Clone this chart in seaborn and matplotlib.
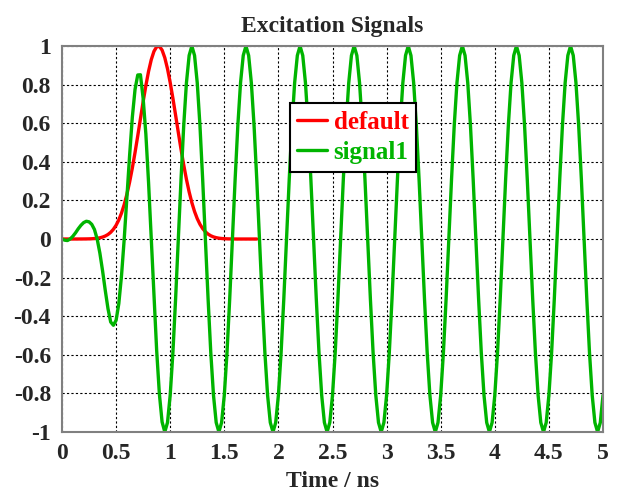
import matplotlib
matplotlib.use("Agg")
import matplotlib.pyplot as plt
import seaborn as sns
import numpy as np

# default pulse, sampled every 0.025 ns from 0 to 1.8 ns
default_t = np.linspace(0, 1.8, 73)
default_v = [0, 0, 0, 0, 0, 0, 0.0001, 0.0002,
             0.0003, 0.0005, 0.0008, 0.0014,
             0.0024, 0.0039, 0.0063, 0.0100, 0.0155, 0.0234, 0.0347, 0.0503,
             0.0713, 0.0990, 0.1344, 0.1786, 0.2322, 0.2955, 0.3679, 0.4482,
             0.5344, 0.6233, 0.7116, 0.7948, 0.8688, 0.9293, 0.9726, 0.9961,
             0.9983, 0.9790, 0.9394, 0.8821, 0.8105, 0.7288, 0.6412, 0.5520,
             0.4650, 0.3834, 0.3093, 0.2441, 0.1886, 0.1425, 0.1054, 0.0763,
             0.0540, 0.0374, 0.0254, 0.0168, 0.0109, 0.0069, 0.0043, 0.0026,
             0.0016, 0.0009, 0.0005, 0.0003, 0.0001,
             0, 0, 0, 0, 0, 0, 0, 0]

# signal1, sampled every 0.025 ns from 0 to 5 ns
signal_t = np.linspace(0, 5, 201)
signal_v = [0, -0.006, -0.008, 0, 0.014, 0.032, 0.053, 0.071, 0.085, 0.092,
            0.089, 0.076, 0.049, 0, -0.073, -0.165, -0.267, -0.361, -0.43, -0.447,
            -0.421, -0.335, -0.190, 0, 0.216, 0.435, 0.631, 0.775, 0.85, 0.851,
            0.728, 0.544, 0.292, 0, -0.301, -0.579, -0.803, -0.948, -1.0, -0.951,
            -0.809,
            -0.588, -0.309, 0, 0.309, 0.588, 0.809, 0.951, 1, 0.951, 0.809, 0.588, 0.309, 0, -0.309, -0.588, -0.809, -0.951, -1, -0.951, -0.809,
            -0.588, -0.309, 0, 0.309, 0.588, 0.809, 0.951, 1, 0.951, 0.809, 0.588, 0.309, 0, -0.309, -0.588, -0.809, -0.951, -1, -0.951, -0.809,
            -0.588, -0.309, 0, 0.309, 0.588, 0.809, 0.951, 1, 0.951, 0.809, 0.588, 0.309, 0, -0.309, -0.588, -0.809, -0.951, -1, -0.951, -0.809,
            -0.588, -0.309, 0, 0.309, 0.588, 0.809, 0.951, 1, 0.951, 0.809, 0.588, 0.309, 0, -0.309, -0.588, -0.809, -0.951, -1, -0.951, -0.809,
            -0.588, -0.309, 0, 0.309, 0.588, 0.809, 0.951, 1, 0.951, 0.809, 0.588, 0.309, 0, -0.309, -0.588, -0.809, -0.951, -1, -0.951, -0.809,
            -0.588, -0.309, 0, 0.309, 0.588, 0.809, 0.951, 1, 0.951, 0.809, 0.588, 0.309, 0, -0.309, -0.588, -0.809, -0.951, -1, -0.951, -0.809,
            -0.588, -0.309, 0, 0.309, 0.588, 0.809, 0.951, 1, 0.951, 0.809, 0.588, 0.309, 0, -0.309, -0.588, -0.809, -0.951, -1, -0.951, -0.809,
            -0.588, -0.309, 0, 0.309, 0.588, 0.809, 0.951, 1, 0.951, 0.809, 0.588, 0.309, 0, -0.309, -0.588, -0.809, -0.951, -1, -0.951, -0.809]

x_ticks = [0, 0.5, 1, 1.5, 2, 2.5, 3, 3.5, 4, 4.5, 5]
y_ticks = [-1, -0.8, -0.6, -0.4, -0.2, 0, 0.2, 0.4, 0.6, 0.8, 1]

sns.set_style("white")
plt.rcParams['font.family'] = ['Liberation Serif', 'DejaVu Serif']
plt.rcParams['font.weight'] = 'bold'
plt.rcParams['axes.unicode_minus'] = False

fig, ax = plt.subplots(figsize=(6.2, 4.97), dpi=100)
fig.subplots_adjust(left=0.1, right=0.9726, bottom=0.1308, top=0.9074)

red = '#ff0000'
green = '#00b400'
sns.lineplot(x=default_t, y=default_v, color=red, linewidth=2.4, label='default', ax=ax)
sns.lineplot(x=signal_t, y=signal_v, color=green, linewidth=2.4, label='signal1', ax=ax)

ax.set_xlim(0, 5)
ax.set_ylim(-1, 1)
ax.set_xticks(x_ticks)
ax.set_yticks(y_ticks)
ax.set_xticklabels(['%g' % v for v in x_ticks])
ax.set_yticklabels(['%g' % v for v in y_ticks])
ax.tick_params(labelsize=17, direction='out', length=3, color='#808080', pad=5)
for lab in ax.get_xticklabels() + ax.get_yticklabels():
    lab.set_fontweight('bold')

ax.grid(True, color='black', linestyle=(0, (2, 2)), linewidth=0.8)
for s in ax.spines.values():
    s.set_color('#808080')
    s.set_linewidth(1.5)

ax.set_title('Excitation Signals', fontsize=17, fontweight='bold', pad=10)
ax.set_xlabel('Time / ns', fontsize=17, fontweight='bold', labelpad=5)

leg = ax.legend(loc='upper left', bbox_to_anchor=(0.421, 0.852), fontsize=18,
                frameon=True, fancybox=False, edgecolor='black', framealpha=1,
                handlelength=1.2, handletextpad=0.25, borderpad=0.3, labelspacing=0.3,
                borderaxespad=0)
leg.get_frame().set_linewidth(1.5)
for txt, c in zip(leg.get_texts(), [red, green]):
    txt.set_color(c)
    txt.set_fontweight('bold')

fig.savefig('out.png', dpi=100)
